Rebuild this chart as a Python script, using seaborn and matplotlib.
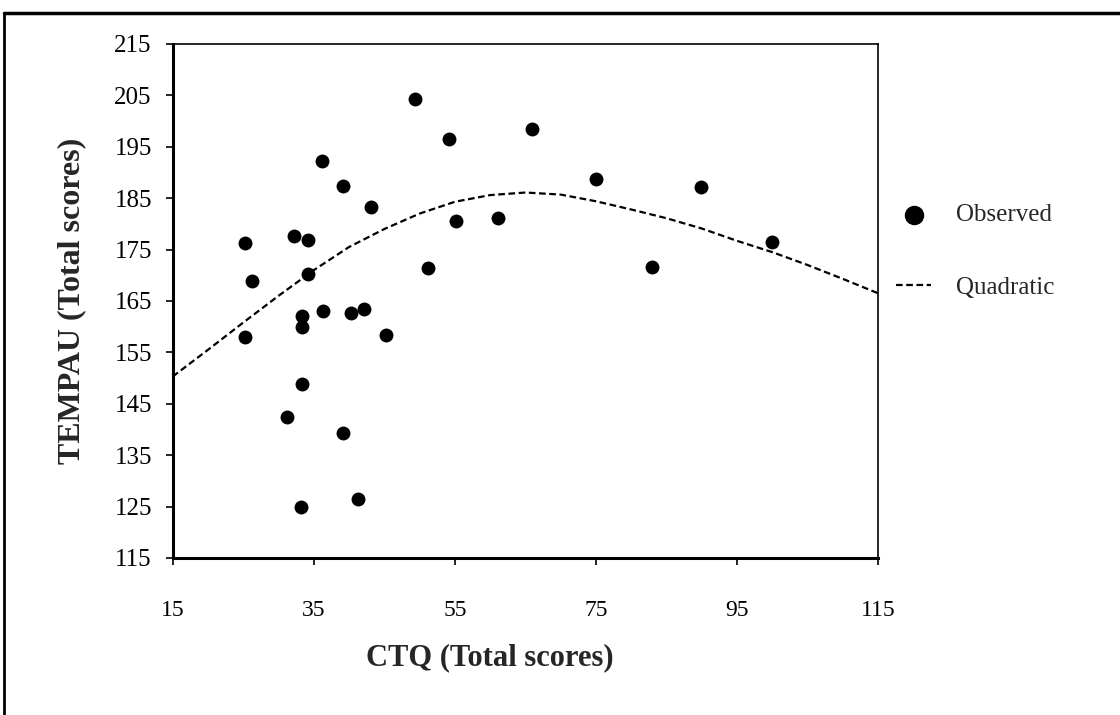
import matplotlib
matplotlib.use("Agg")
import matplotlib.pyplot as plt
import seaborn as sns
from matplotlib.lines import Line2D

# observed scores
ctq = [49.3, 54.2, 66.0, 36.2, 39.2, 43.1, 75.0, 89.9, 55.2, 61.1,
       25.3, 32.2, 34.2, 51.2, 83.0, 100.0, 26.2, 34.2, 33.3, 33.3,
       36.3, 40.3, 42.1, 45.2, 25.3, 33.4, 31.2, 39.2, 41.3, 33.2]
tempau = [204.2, 196.5, 198.5, 192.2, 187.4, 183.2, 188.7, 187.2, 180.6, 181.1,
          176.3, 177.6, 176.9, 171.4, 171.7, 176.5, 168.9, 170.3, 162.1, 160.0,
          163.1, 162.7, 163.5, 158.4, 157.9, 148.9, 142.4, 139.4, 126.5, 125.0]

# fitted quadratic curve
fit_x = [15, 20, 25, 30, 35, 40, 45, 50, 55, 60, 65, 70, 75, 80, 85, 90, 95, 100, 105, 110, 115]
fit_y = [150.3, 155.5, 160.8, 166.0, 171.0, 175.5, 179.0, 182.0, 184.3, 185.6, 186.1,
         185.7, 184.4, 182.8, 181.1, 179.1, 176.7, 174.5, 172.0, 169.3, 166.5]

x_ticks = [15, 35, 55, 75, 95, 115]
y_ticks = [115, 125, 135, 145, 155, 165, 175, 185, 195, 205, 215]

sns.set_style("white")
plt.rcParams['font.family'] = ['Liberation Serif', 'DejaVu Serif']

fig = plt.figure(figsize=(11.2, 7.15), dpi=100)
ax = fig.add_axes([0.1542, 0.2196, 0.784 - 0.1542, 0.9385 - 0.2196])

sns.scatterplot(x=ctq, y=tempau, ax=ax, color='black', s=100, edgecolor='black',
                linewidth=0, label='Observed', zorder=3)
sns.lineplot(x=fit_x, y=fit_y, ax=ax, color='black', linewidth=1.6,
             linestyle=(0, (3, 1.6)), label='Quadratic', zorder=2)

ax.set_xlim(15, 115)
ax.set_ylim(115, 215)
ax.set_xticks(x_ticks)
ax.set_yticks(y_ticks)
ax.tick_params(axis='both', direction='out', length=5, width=1.2,
               colors='black', left=True, bottom=True)
ax.tick_params(axis='x', labelsize=17, pad=25)
ax.tick_params(axis='y', labelsize=18, pad=10)

for side in ['left', 'bottom']:
    ax.spines[side].set_linewidth(2.2)
for side in ['top', 'right']:
    ax.spines[side].set_linewidth(1.2)
for sp in ax.spines.values():
    sp.set_color('black')

ax.set_xlabel('CTQ (Total scores)', fontsize=22, fontweight='bold', labelpad=16)
ax.set_ylabel('TEMPAU (Total scores)', fontsize=23, fontweight='bold', labelpad=20)
ax.xaxis.set_label_coords(0.45, -0.165)

ax.legend(loc='upper left', bbox_to_anchor=(0.8, 0.715), bbox_transform=fig.transFigure,
          frameon=False, fontsize=18, markerscale=1.4, handlelength=1.4,
          handletextpad=1.0, labelspacing=2.0, borderpad=0, borderaxespad=0)

# outer frame of the original figure
fig.add_artist(Line2D([0.004, 1.0], [0.982, 0.982], transform=fig.transFigure,
                      color='black', linewidth=2.5))
fig.add_artist(Line2D([0.004, 0.004], [0.0, 0.982], transform=fig.transFigure,
                      color='black', linewidth=2.0))

fig.savefig('out.png', dpi=100)
